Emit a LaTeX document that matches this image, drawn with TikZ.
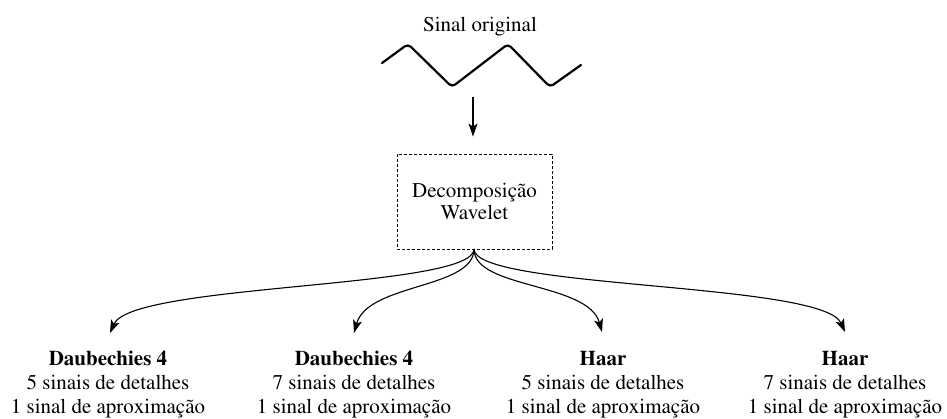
\documentclass[tikz,border=0pt]{standalone}
\usepackage[T1]{fontenc}
\usepackage{mathptmx}
\usetikzlibrary{arrows.meta}
\begin{document}
\begin{tikzpicture}[x=1pt,y=-1pt,
  txt/.style={font=\fontsize{21}{24}\selectfont, inner sep=0pt, align=center},
  arr/.style={line width=1.1pt, -{Stealth[length=13pt,width=9pt,inset=3pt]}},
  boxstyle/.style={draw, line width=0.9pt, dash pattern=on 3pt off 2pt,
    minimum width=155pt, minimum height=95pt, inner sep=0pt,
    font=\fontsize{21}{22}\selectfont, align=center},
  wave/.style={line width=2.2pt, rounded corners=4pt, line join=round, line cap=round}]
\useasboundingbox (0,0) rectangle (947,418);

% input signal
\node[txt] (sinal) at (480,27) {Sinal original};
\draw[wave] (382,63) -- (408,44) -- (452,87) -- (508,44) -- (550,87) -- (581,65);

% decomposition block
\node[boxstyle] (box) at (474.5,201.5) {Decomposição\\Wavelet};
\coordinate (wavefoot) at (473,97);
\draw[arr] (wavefoot) -- (wavefoot |- box.north) [shorten >=17pt];

% resulting decompositions
\node[txt, anchor=north] (d4a) at (108,351) {\textbf{Daubechies 4}\\5 sinais de detalhes\\1 sinal de aproximação};
\node[txt, anchor=north] (d4b) at (354,351) {\textbf{Daubechies 4}\\7 sinais de detalhes\\1 sinal de aproximação};
\node[txt, anchor=north] (haa) at (603,351) {\textbf{Haar}\\5 sinais de detalhes\\1 sinal de aproximação};
\node[txt, anchor=north] (hab) at (845,351) {\textbf{Haar}\\7 sinais de detalhes\\1 sinal de aproximação};

\coordinate (fan) at (474,249);
\coordinate (t1) at (110,333);
\coordinate (t2) at (354,333);
\coordinate (t3) at (602,332);
\coordinate (t4) at (845,332);

\draw[arr] (fan) .. controls +(0,40) and +(22,-50) .. (t1);
\draw[arr] (fan) .. controls +(0,40) and +(14,-50) .. (t2);
\draw[arr] (fan) .. controls +(0,40) and +(-14,-50) .. (t3);
\draw[arr] (fan) .. controls +(0,40) and +(-22,-50) .. (t4);
\end{tikzpicture}
\end{document}
